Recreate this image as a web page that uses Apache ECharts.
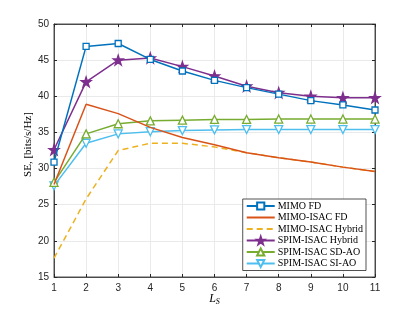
<!DOCTYPE html>
<html><head><meta charset="utf-8">
<script src="https://cdn.jsdelivr.net/npm/echarts@6/dist/echarts.min.js"></script>
<style>html,body{margin:0;padding:0;background:#fff}#c{width:415px;height:312px}</style>
</head><body><div id="c"></div>
<script>
const xCats = [1,2,3,4,5,6,7,8,9,10,11];
const yTicks = [15,20,25,30,35,40,45,50];
const seriesNames = ['MIMO FD','MIMO-ISAC FD','MIMO-ISAC Hybrid','SPIM-ISAC Hybrid','SPIM-ISAC SD-AO','SPIM-ISAC SI-AO'];
const mimoFD = [30.9,46.9,47.3,45.1,43.5,42.2,41.2,40.3,39.4,38.8,38.1];
const mimoIsacFD = [27.8,38.9,37.6,35.7,34.3,33.3,32.2,31.5,30.9,30.2,29.6];
const mimoIsacHybrid = [17.6,25.8,32.5,33.5,33.5,33.0,32.2,31.5,30.9,30.2,29.6];
const spimHybrid = [32.6,42.0,45.0,45.3,44.1,42.8,41.4,40.5,40.0,39.8,39.8];
const spimSD = [28.1,34.8,36.2,36.6,36.7,36.8,36.8,36.85,36.85,36.85,36.85];
const spimSI = [27.6,33.5,34.8,35.1,35.25,35.35,35.4,35.4,35.4,35.4,35.4];

const colors = ['#0072BD','#D95319','#EDB120','#7E2F8E','#77AC30','#4DBEEE'];
const star = 'path://M50,0 L61.8,35.1 L98.9,35.1 L68.9,56.9 L80.3,92 L50,70.4 L19.7,92 L31.1,56.9 L1.1,35.1 L38.2,35.1 Z';
const axisCol = '#262626';

function mk(name, data, i, sym, opts) {
  opts = opts || {};
  return {
    name: name, type: 'line', data: xCats.map((x,k)=>[x,data[k]]),
    symbol: sym, symbolSize: opts.size || 7, showSymbol: sym !== 'none',
    symbolRotate: opts.rot || 0,
    lineStyle: {color: colors[i], width: 1.5, type: opts.dash ? [6,4] : 'solid'},
    itemStyle: {color: opts.filled ? colors[i] : '#ffffff', borderColor: colors[i], borderWidth: 1.3},
    emphasis: {disabled: true}, animation: false, z: 10 - i
  };
}

const legendData = seriesNames.map((n, i) => (i === 1 || i === 2)
  ? {name: n, itemStyle: {opacity: 0}}
  : {name: n});

const chart = echarts.init(document.getElementById('c'), null, {renderer: 'canvas'});
chart.setOption({
  animation: false,
  backgroundColor: '#fff',
  grid: {left: 54, right: 40, top: 24, bottom: 35, show: true, borderColor: axisCol, borderWidth: 0.8, backgroundColor: 'transparent'},
  legend: {
    right: 49, top: 199, orient: 'vertical', itemGap: 1.5, itemWidth: 28, itemHeight: 9,
    padding: [2, 3, 2, 3],
    borderColor: axisCol, borderWidth: 0.8, backgroundColor: '#fff', borderRadius: 0,
    textStyle: {fontFamily: 'Liberation Serif', fontSize: 10, color: '#000', padding: [0,0,0,-2]},
    lineStyle: {width: 2},
    data: legendData
  },
  xAxis: [{
    type: 'value', min: 1, max: 11, interval: 1,
    name: '{a|L}{b|S}', nameLocation: 'middle', nameGap: 15, nameMoveOverlap: false,
    nameTextStyle: {rich: {a: {fontFamily: 'Liberation Serif', fontStyle: 'italic', fontSize: 12, color: '#000'}, b: {fontFamily: 'Liberation Serif', fontStyle: 'italic', fontSize: 8, color: '#000', verticalAlign: 'bottom', padding: [6,0,0,0]}}},
    axisLine: {show: true, lineStyle: {color: axisCol, width: 0.8}},
    axisTick: {show: true, inside: true, length: 3, lineStyle: {color: axisCol}},
    axisLabel: {color: axisCol, fontFamily: 'Liberation Sans', fontSize: 10, margin: 6},
    splitLine: {show: true, lineStyle: {color: '#e5e5e5', width: 0.8}}
  },{
    type: 'value', min: 1, max: 11, interval: 1, position: 'top',
    axisLine: {show: true, lineStyle: {color: axisCol, width: 0.8}},
    axisTick: {show: true, inside: true, length: 3, lineStyle: {color: axisCol}},
    axisLabel: {show: false}, splitLine: {show: false}
  }],
  yAxis: [{
    type: 'value', min: 15, max: 50, interval: 5,
    name: 'SE, [bits/s/Hz]', nameLocation: 'middle', nameGap: 20, nameMoveOverlap: false,
    nameTextStyle: {fontFamily: 'Liberation Serif', fontSize: 11, color: '#000', padding: [0, 0, 0, 12]},
    axisLine: {show: true, lineStyle: {color: axisCol, width: 0.8}},
    axisTick: {show: true, inside: true, length: 3, lineStyle: {color: axisCol}},
    axisLabel: {color: axisCol, fontFamily: 'Liberation Sans', fontSize: 10, margin: 5},
    splitLine: {show: true, lineStyle: {color: '#e5e5e5', width: 0.8}}
  },{
    type: 'value', min: 15, max: 50, interval: 5, position: 'right',
    axisLine: {show: true, lineStyle: {color: axisCol, width: 0.8}},
    axisTick: {show: true, inside: true, length: 3, lineStyle: {color: axisCol}},
    axisLabel: {show: false}, splitLine: {show: false}
  }],
  series: [
    mk(seriesNames[0], mimoFD, 0, 'rect', {size: 6}),
    mk(seriesNames[1], mimoIsacFD, 1, 'none'),
    mk(seriesNames[2], mimoIsacHybrid, 2, 'none', {dash: true}),
    mk(seriesNames[3], spimHybrid, 3, star, {size: 10, filled: true}),
    mk(seriesNames[4], spimSD, 4, 'triangle', {size: 8}),
    mk(seriesNames[5], spimSI, 5, 'triangle', {size: 8, rot: 180})
  ]
});
</script></body></html>
